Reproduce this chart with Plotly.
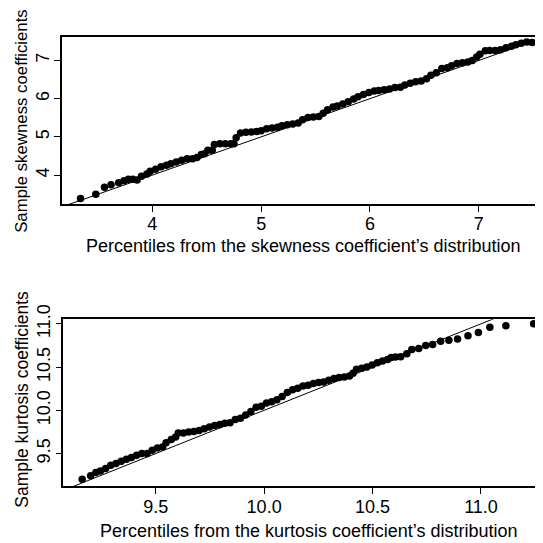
import plotly.graph_objects as go

# ---- Skewness QQ data (theoretical percentile, sample value) ----
skew_theoretical = [3.34, 3.48, 3.56, 3.62, 3.69, 3.74, 3.78, 3.82, 3.86, 3.90, 3.95, 3.98,
                    4.03, 4.08, 4.13, 4.17, 4.22, 4.27, 4.32, 4.37, 4.41, 4.45, 4.48, 4.51,
                    4.55, 4.57, 4.62, 4.67, 4.72, 4.75, 4.77, 4.81, 4.86, 4.91, 4.96, 5.00,
                    5.05, 5.10, 5.15, 5.19, 5.24, 5.29, 5.34, 5.38, 5.43, 5.48, 5.53, 5.57,
                    5.61, 5.66, 5.70, 5.75, 5.80, 5.85, 5.89, 5.94, 5.99, 6.04, 6.08, 6.13,
                    6.18, 6.23, 6.28, 6.32, 6.37, 6.42, 6.47, 6.52, 6.56, 6.61, 6.66, 6.71,
                    6.75, 6.80, 6.85, 6.90, 6.94, 6.98, 7.01, 7.06, 7.10, 7.15, 7.20, 7.25,
                    7.30, 7.34, 7.39, 7.44, 7.49]
skew_sample = [3.39, 3.50, 3.68, 3.75, 3.80, 3.85, 3.89, 3.89, 3.87, 3.97, 4.03, 4.10,
               4.15, 4.22, 4.26, 4.30, 4.34, 4.39, 4.43, 4.43, 4.46, 4.54, 4.56, 4.65,
               4.65, 4.80, 4.82, 4.82, 4.82, 4.82, 4.98, 5.10, 5.12, 5.13, 5.14, 5.16,
               5.21, 5.23, 5.25, 5.29, 5.32, 5.34, 5.36, 5.45, 5.51, 5.52, 5.53, 5.62,
               5.71, 5.78, 5.81, 5.86, 5.92, 5.99, 6.05, 6.11, 6.16, 6.20, 6.21, 6.23,
               6.25, 6.29, 6.30, 6.36, 6.40, 6.44, 6.46, 6.52, 6.61, 6.68, 6.79, 6.81,
               6.86, 6.92, 6.94, 6.96, 7.00, 7.09, 7.16, 7.25, 7.26, 7.26, 7.28, 7.33,
               7.37, 7.41, 7.45, 7.48, 7.47]

# ---- Kurtosis QQ data ----
kurt_theoretical = [9.161, 9.200, 9.224, 9.245, 9.269, 9.293, 9.317, 9.341, 9.365, 9.388,
                    9.412, 9.436, 9.460, 9.484, 9.508, 9.532, 9.548, 9.572, 9.592, 9.604,
                    9.628, 9.652, 9.676, 9.700, 9.724, 9.748, 9.772, 9.796, 9.819, 9.843,
                    9.867, 9.891, 9.915, 9.939, 9.963, 9.987, 10.011, 10.035, 10.059, 10.083,
                    10.107, 10.131, 10.155, 10.179, 10.203, 10.227, 10.251, 10.274, 10.298,
                    10.322, 10.346, 10.370, 10.394, 10.410, 10.426, 10.450, 10.474, 10.498,
                    10.522, 10.546, 10.569, 10.586, 10.606, 10.630, 10.658, 10.681, 10.713,
                    10.745, 10.777, 10.814, 10.852, 10.892, 10.940, 10.988, 11.041, 11.115,
                    11.243]
kurt_sample = [9.202, 9.244, 9.282, 9.297, 9.328, 9.366, 9.385, 9.412, 9.435, 9.454,
               9.481, 9.500, 9.500, 9.538, 9.565, 9.577, 9.626, 9.664, 9.691, 9.737,
               9.737, 9.748, 9.756, 9.767, 9.786, 9.806, 9.824, 9.836, 9.851, 9.855,
               9.893, 9.909, 9.947, 9.985, 10.035, 10.046, 10.084, 10.099, 10.122, 10.161,
               10.207, 10.237, 10.256, 10.282, 10.290, 10.310, 10.321, 10.328, 10.348,
               10.367, 10.379, 10.386, 10.397, 10.428, 10.474, 10.485, 10.500, 10.523,
               10.550, 10.569, 10.588, 10.611, 10.615, 10.619, 10.653, 10.703, 10.714,
               10.749, 10.760, 10.798, 10.809, 10.825, 10.863, 10.901, 10.959, 10.978,
               11.000]

# reference line y = x (end values only)
skew_ref = [3.0, 8.0]
kurt_ref = [9.0, 11.5]

skew_xticks = [4, 5, 6, 7]
skew_yticks = [4, 5, 6, 7]
kurt_xticks = [9.5, 10.0, 10.5, 11.0]
kurt_yticks = [9.5, 10.0, 10.5, 11.0]

titles = {
    "skew_x": "Percentiles from the skewness coefficient\u2019s distribution",
    "skew_y": "Sample skewness coefficients",
    "kurt_x": "Percentiles from the kurtosis coefficient\u2019s distribution",
    "kurt_y": "Sample kurtosis coefficients",
}

FONT = "Liberation Sans, Arial, Helvetica, sans-serif"

fig = go.Figure()
fig.add_trace(go.Scatter(x=skew_ref, y=skew_ref, mode="lines",
                         line=dict(color="black", width=1), xaxis="x", yaxis="y",
                         showlegend=False, hoverinfo="skip"))
fig.add_trace(go.Scatter(x=skew_theoretical, y=skew_sample, mode="markers",
                         marker=dict(color="black", size=7.5), xaxis="x", yaxis="y",
                         showlegend=False, cliponaxis=False))
fig.add_trace(go.Scatter(x=kurt_ref, y=kurt_ref, mode="lines",
                         line=dict(color="black", width=1), xaxis="x2", yaxis="y2",
                         showlegend=False, hoverinfo="skip"))
fig.add_trace(go.Scatter(x=kurt_theoretical, y=kurt_sample, mode="markers",
                         marker=dict(color="black", size=7.5), xaxis="x2", yaxis="y2",
                         showlegend=False, cliponaxis=False))

axis_common = dict(showgrid=False, zeroline=False, showline=True, linecolor="black",
                   linewidth=1.5, ticks="outside", ticklen=6, tickwidth=1, tickcolor="black",
                   tickfont=dict(family=FONT, size=18, color="black"))

fig.update_layout(
    width=543, height=543,
    margin=dict(l=53, r=8, t=28.5, b=64.5),
    paper_bgcolor="white", plot_bgcolor="white",
    font=dict(family=FONT, size=18, color="black"),
    xaxis=dict(domain=[0.0015, 1], anchor="y", range=[3.167, 7.59], mirror=True,
               tickvals=skew_xticks, ticktext=[str(v) for v in skew_xticks],
               ticklabelstandoff=-3, **axis_common),
    yaxis=dict(domain=[0.628, 1], anchor="x", range=[3.243, 7.613],
               tickvals=skew_yticks, ticktext=[str(v) for v in skew_yticks], tickangle=-90,
               ticklabelstandoff=-2, **axis_common),
    xaxis2=dict(domain=[0.0048, 1], anchor="y2", range=[9.074, 11.286], mirror=True,
                tickvals=kurt_xticks, ticktext=[f"{v:.1f}" for v in kurt_xticks],
                ticklabelstandoff=-2, **axis_common),
    yaxis2=dict(domain=[0, 0.3716], anchor="x2", range=[9.125, 11.054],
                tickvals=kurt_yticks, ticktext=[f"{v:.1f}" for v in kurt_yticks], tickangle=-90,
                ticklabelstandoff=-2, **axis_common),
    annotations=[
        dict(text=titles["skew_x"], xref="paper", yref="paper", x=0.504, y=0.5344,
             xanchor="center", yanchor="middle", showarrow=False,
             font=dict(family=FONT, size=18, color="black")),
        dict(text=titles["kurt_x"], xref="paper", yref="paper", x=0.5145, y=-0.1011,
             xanchor="center", yanchor="middle", showarrow=False,
             font=dict(family=FONT, size=18, color="black")),
        dict(text=titles["skew_y"], xref="paper", yref="paper", x=-0.0809, y=0.8133,
             xanchor="center", yanchor="middle", showarrow=False, textangle=-90,
             font=dict(family=FONT, size=16.8, color="black")),
        dict(text=titles["kurt_y"], xref="paper", yref="paper", x=-0.0809, y=0.1922,
             xanchor="center", yanchor="middle", showarrow=False, textangle=-90,
             font=dict(family=FONT, size=17.5, color="black")),
    ],
)

fig.write_html("out.html")
